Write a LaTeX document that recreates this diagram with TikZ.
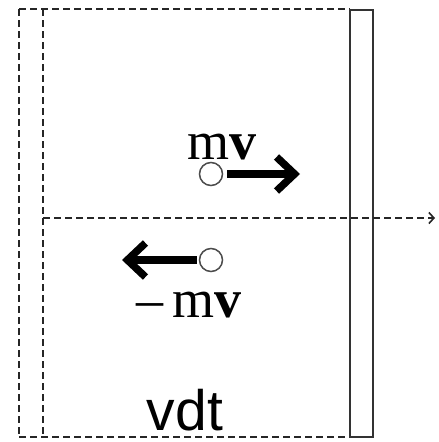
\documentclass[tikz,border=0pt]{standalone}
\usepackage{fontspec}
\setmainfont{Liberation Serif}
\setsansfont{Liberation Sans}
\usetikzlibrary{arrows.meta}
\begin{document}
\begin{tikzpicture}[x=1pt,y=-1pt,
  dsh/.style={line width=1.6pt,dash pattern=on 7pt off 4pt,black!85},
  ball/.style={circle,draw=black!70,line width=1.5pt,minimum size=23pt,inner sep=0pt},
  mom/.style={line width=7.5pt,-{Straight Barb[length=18pt,width=34pt,line width=7.5pt]}},
  lbl/.style={inner sep=0pt,font=\fontsize{54}{54}\selectfont}]
\useasboundingbox (0,0) rectangle (439,442);
% outer dashed region
\draw[dsh] (19,9) -- (350,9);
\draw[dsh] (19,437) -- (350,437);
\draw[dsh] (19,9) -- (19,437);
\draw[dsh] (43,9) -- (43,437);
% wall
\node[draw=black!80,line width=1.6pt,minimum width=23pt,minimum height=427pt,inner sep=0pt] (wall) at (361.5,223.5) {};
% axis
\coordinate (ax0) at (43,218);
\coordinate (ax1) at (435,218);
\draw[dsh,-{Straight Barb[length=5pt,width=11pt,line width=1.6pt]}] (ax0) -- (ax1);
% balls
\node[ball] (b1) at (211,174) {};
\node[ball] (b2) at (211,260) {};
\coordinate (t1) at (300,174);
\coordinate (t2) at (122,260);
\draw[mom] (b1.east) ++(4,0) -- (t1);
\draw[mom] (b2.west) ++(-2,0) -- (t2);
% labels
\node[lbl,anchor=base] (l1) at (222,159) {m\textbf{v}};
\node[lbl,anchor=base] (l2) at (189,317) {\textendash\,m\textbf{v}};
\node[lbl,anchor=base,font=\sffamily\fontsize{57}{57}\selectfont] (l3) at (185,430) {vdt};
\end{tikzpicture}
\end{document}
